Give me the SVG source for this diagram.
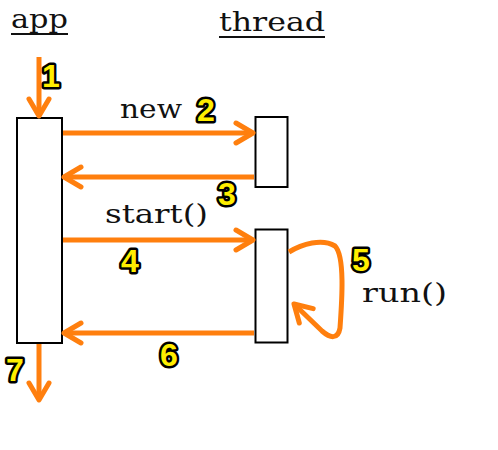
<svg xmlns="http://www.w3.org/2000/svg" width="498" height="450" viewBox="0 0 498 450">
<style>
.lbl{font-family:"DejaVu Serif","Liberation Serif",serif;font-size:26px;fill:#111}
.num{font-family:"Liberation Sans",Arial,sans-serif;font-weight:bold;font-size:32px;fill:#ffee00;stroke:#000;stroke-width:5;paint-order:stroke;stroke-linejoin:round}
.box{fill:#fff;stroke:#000;stroke-width:2}
.arr{fill:none;stroke:#ff7f0e;stroke-width:5;marker-end:url(#ah)}
.ul{stroke:#111;stroke-width:2}
</style>
<defs>
<marker id="ah" markerUnits="userSpaceOnUse" viewBox="-22 -14 26 28" markerWidth="26" markerHeight="28" refX="0" refY="0" orient="auto">
<path d="M-17,-10 L0,0 L-17,10" fill="none" stroke="#ff7f0e" stroke-width="5" stroke-linecap="round" stroke-linejoin="round"/>
</marker>
</defs>
<g id="app-title">
<text class="lbl" x="11" y="28" textLength="57" lengthAdjust="spacingAndGlyphs">app</text>
<line class="ul" x1="11" y1="34" x2="68" y2="34"/>
</g>
<g id="thread-title">
<text class="lbl" x="219" y="31" textLength="106" lengthAdjust="spacingAndGlyphs">thread</text>
<line class="ul" x1="219" y1="37" x2="325" y2="37"/>
</g>
<g id="app">
<rect class="box" x="17" y="118" width="45" height="225"/>
</g>
<g id="thread1">
<rect class="box" x="255.5" y="117" width="32" height="70"/>
</g>
<g id="thread2">
<rect class="box" x="255.5" y="229.5" width="32" height="113"/>
</g>
<g id="connectors">
<path class="arr" d="M39,57 L39,116"/>
<path class="arr" d="M63,133 L253,133"/>
<path class="arr" d="M254,177 L64,177"/>
<path class="arr" d="M63,240 L253,240"/>
<path class="arr" d="M289,252 C302,244 322,238 335,246 C345,256 342,300 340,328 C338,340 330,338 322,331 L294,304"/>
<path class="arr" d="M254,333 L64,333"/>
<path class="arr" d="M39,344 L39,400"/>
</g>
<g id="labels">
<text class="lbl" x="120" y="118" textLength="62" lengthAdjust="spacingAndGlyphs">new</text>
<text class="lbl" x="105" y="223" textLength="103" lengthAdjust="spacingAndGlyphs">start()</text>
<text class="lbl" x="362" y="302" textLength="85" lengthAdjust="spacingAndGlyphs">run()</text>
</g>
<g id="numbers">
<text class="num" x="42" y="87">1</text>
<text class="num" x="197" y="121">2</text>
<text class="num" x="218" y="205">3</text>
<text class="num" x="121" y="272">4</text>
<text class="num" x="352" y="271">5</text>
<text class="num" x="160" y="366">6</text>
<text class="num" x="6" y="381">7</text>
</g>
</svg>
